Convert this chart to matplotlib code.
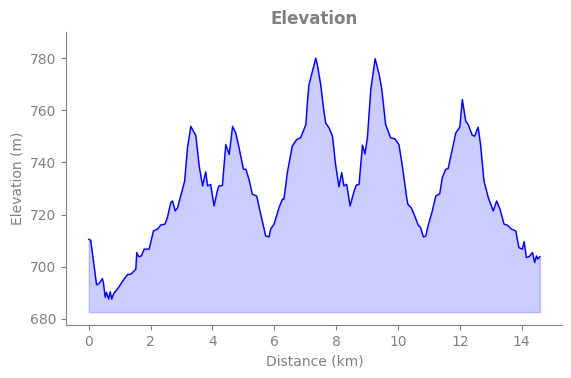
import matplotlib

matplotlib.use("Agg")
import matplotlib.pyplot as plt
import numpy as np

# --- elevation profile ---
distance_km = [
    0.00, 0.06, 0.25, 0.33, 0.44, 0.47, 0.53, 0.57, 0.64, 0.69, 0.74, 0.80,
    0.98, 1.14, 1.25, 1.36, 1.52, 1.55, 1.61, 1.70, 1.79, 1.95, 2.09, 2.22,
    2.33, 2.46, 2.54, 2.65, 2.71, 2.79, 2.87, 2.97, 3.10, 3.19, 3.30, 3.37,
    3.46, 3.57, 3.68, 3.78, 3.84, 3.94, 4.05, 4.16, 4.21, 4.32, 4.43, 4.54,
    4.65, 4.75, 4.86, 5.00, 5.08, 5.18, 5.29, 5.43, 5.56, 5.72, 5.83, 5.88,
    5.99, 6.15, 6.26, 6.31, 6.42, 6.58, 6.72, 6.85, 7.02, 7.07, 7.12, 7.23,
    7.34, 7.39, 7.50, 7.59, 7.66, 7.77, 7.88, 7.98, 8.09, 8.18, 8.25, 8.34,
    8.45, 8.58, 8.65, 8.74, 8.85, 8.93, 9.01, 9.12, 9.26, 9.39, 9.47, 9.60,
    9.76, 9.90, 10.03, 10.14, 10.28, 10.32, 10.43, 10.54, 10.65, 10.73, 10.82,
    10.90, 10.97, 11.11, 11.22, 11.35, 11.43, 11.54, 11.62, 11.73, 11.87,
    12.00, 12.08, 12.19, 12.27, 12.40, 12.48, 12.59, 12.67, 12.78, 12.92,
    13.08, 13.19, 13.30, 13.43, 13.54, 13.67, 13.81, 13.91, 14.02, 14.08,
    14.15, 14.24, 14.35, 14.42, 14.48, 14.52, 14.59,
]
elevation_m = [
    710.5, 710.1, 693.0, 693.5, 695.4, 693.9, 688.2, 690.1, 687.5, 690.3, 687.5, 689.5,
    692.3, 695.2, 696.9, 697.1, 699.0, 705.4, 703.8, 704.1, 706.7, 706.7, 713.7, 714.4,
    716.0, 716.3, 718.8, 724.6, 725.2, 721.4, 722.6, 727.1, 732.9, 745.6, 753.9, 752.3,
    750.4, 738.6, 731.0, 736.4, 731.0, 731.6, 723.3, 729.3, 731.0, 731.2, 746.9, 743.1,
    753.9, 751.4, 745.6, 737.4, 737.4, 733.5, 727.8, 727.1, 720.1, 711.8, 711.4, 714.4,
    716.3, 722.6, 725.9, 725.9, 736.1, 746.3, 748.8, 749.5, 754.6, 763.5, 769.9, 775.0,
    780.1, 777.6, 769.9, 761.0, 755.2, 753.3, 750.1, 739.3, 730.7, 736.1, 731.0, 731.6,
    723.3, 729.0, 731.3, 731.6, 746.7, 743.3, 749.5, 768.0, 779.9, 773.8, 768.6, 754.6,
    749.5, 749.1, 746.9, 738.6, 726.5, 723.9, 722.6, 719.5, 716.0, 715.0, 711.4,
    711.8, 715.6, 721.4, 727.1, 728.0, 734.1, 737.4, 737.6, 743.7, 751.4,
    753.6, 764.2, 755.9, 754.6, 750.5, 750.1, 753.6, 746.9, 732.9, 726.5,
    721.4, 725.2, 722.0, 716.3, 715.9, 714.4, 713.7, 707.3, 706.7, 709.6,
    703.5, 703.8, 705.4, 701.6, 704.1, 702.9, 703.8,
]

x = np.array(distance_km)
y = np.array(elevation_m)
grey = "#808080"

fig, ax = plt.subplots(figsize=(5.71, 3.78), dpi=100)
ax.plot(x, y, color="blue", lw=1)
ax.fill_between(x, y, y.min() - 5, color="blue", alpha=0.2)
ax.set_ylim(y.min() - 10, y.max() + 10)
ax.set_title("Elevation", color=grey, fontweight="bold", fontsize=12)
ax.set_xlabel("Distance (km)", color=grey)
ax.set_ylabel("Elevation (m)", color=grey)
for side in ("top", "right"):
    ax.spines[side].set_visible(False)
for side in ("left", "bottom"):
    ax.spines[side].set_color(grey)
ax.tick_params(colors=grey)
fig.subplots_adjust(left=0.116, right=0.985, bottom=0.14, top=0.915)
fig.savefig("out.png", dpi=100)
